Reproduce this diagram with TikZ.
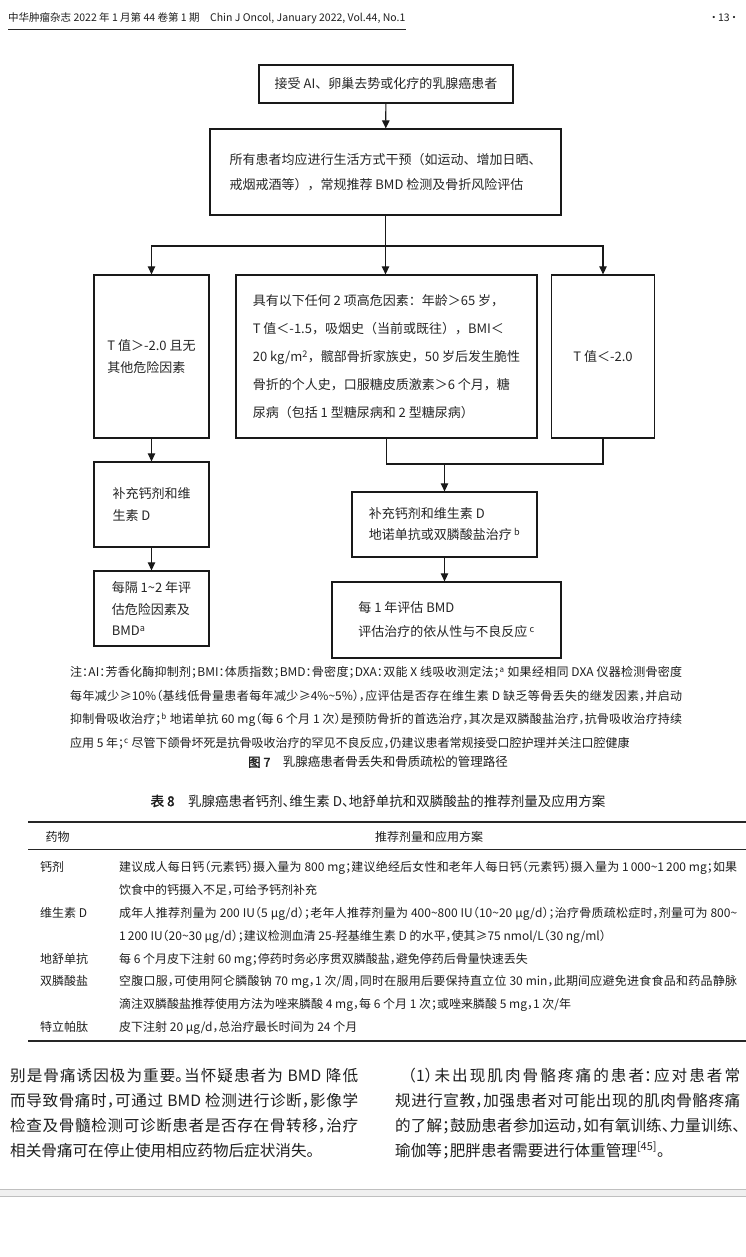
\documentclass[tikz,border=0pt]{standalone}
\usepackage{fontspec}
\setmainfont{Noto Sans CJK SC}
\newfontfamily\flowfont{Noto Sans CJK SC}
\newfontfamily\pagefont[RawFeature=+halt, AutoFakeBold=2]{Noto Sans CJK SC}
\usetikzlibrary{arrows.meta, positioning, calc}
\XeTeXlinebreaklocale "zh"
\XeTeXlinebreakskip=0pt plus 1.5pt

\begin{document}
\begin{tikzpicture}[x=1pt, y=-1pt,
        flowbox/.style={draw=black!90, line width=1.3pt, align=left, inner sep=0pt, text=black!85},
        flowfs/.style={font=\flowfont\fontsize{13}{#1}\selectfont},
        arrow/.style={-{Triangle[length=8pt, width=7.5pt]}, line width=1.2pt, draw=black!90},
        link/.style={line width=1.2pt, draw=black!90},
        para/.style={anchor=base west, inner sep=0pt, align=justify, text=black!88, execute at begin node=\selectfont},
        cell/.style={anchor=base west, inner sep=0pt, text=black!88, font=\pagefont\fontsize{12}{22.86}\selectfont},
        rule/.style={draw=black!85}
    ]
        \useasboundingbox[fill=white] (0,0) rectangle (746,1257);

        % Running head
        \node[anchor=base west, inner sep=0pt, text=black!88, font=\pagefont\fontsize{10.5}{13}\selectfont] (runhead) at (8,22)
            {中华肿瘤杂志 2022 年 1 月第 44 卷第 1 期\quad Chin J Oncol, January 2022, Vol.44, No.1};
        \draw[rule, line width=0.7pt] ([yshift=-5pt]runhead.south west) -- ([yshift=-5pt]runhead.south east);
        \node[anchor=base east, inner sep=0pt, text=black!88, font=\pagefont\fontsize{10.5}{13}\selectfont] (folio) at (737,22) {·\,13\,·};

        % Flow chart
        \node[flowbox, flowfs=16, minimum width=254pt, minimum height=38pt] (start) at (386,84)
            {接受 AI、卵巢去势或化疗的乳腺癌患者};
        \node[flowbox, flowfs=25, minimum width=351pt, minimum height=86pt] (life) at (385.5,172)
            {所有患者均应进行生活方式干预（如运动、增加日晒、\\戒烟戒酒等），常规推荐 BMD 检测及骨折风险评估};
        \node[flowbox, flowfs=22, minimum width=115pt, minimum height=163pt] (low) at (151.5,356.5)
            {T 值＞-2.0 且无\\其他危险因素};
        \node[flowbox, flowfs=28, minimum width=301pt, minimum height=163pt] (risk) at (386.5,356.5)
            {具有以下任何 2 项高危因素：年龄＞65 岁，\\T 值＜-1.5，吸烟史（当前或既往），BMI＜\\20 kg/m\textsuperscript{2}，髋部骨折家族史，50 岁后发生脆性\\骨折的个人史，口服糖皮质激素＞6 个月，糖\\尿病（包括 1 型糖尿病和 2 型糖尿病）};
        \node[flowbox, flowfs=22, minimum width=103pt, minimum height=163pt] (severe) at (603,356.5)
            {T 值＜-2.0};
        \node[flowbox, flowfs=22, minimum width=115pt, minimum height=85pt] (supp) at (151.5,504.5)
            {补充钙剂和维\\生素 D};
        \node[flowbox, flowfs=21.5, minimum width=115pt, minimum height=75pt] (recheck) at (151.5,608.5)
            {每隔 1\textasciitilde 2 年评\\估危险因素及\\BMD\textsuperscript{a}};
        \node[flowbox, flowfs=21, minimum width=185pt, minimum height=65pt] (treat) at (444.5,524.5)
            {补充钙剂和维生素 D\\地诺单抗或双膦酸盐治疗\,\textsuperscript{b}};
        \node[flowbox, flowfs=24, minimum width=229pt, minimum height=76pt] (yearly) at (446.5,620)
            {每 1 年评估 BMD\\评估治疗的依从性与不良反应\,\textsuperscript{c}};

        % Connectors
        \coordinate (split) at (386,246);
        \coordinate (join) at (444.5,464);
        \draw[arrow] (start) -- (life);
        \draw[arrow] (life.south) -- (life.south |- risk.north);
        \draw[arrow] (split) -| (low.north);
        \draw[arrow] (split) -| (severe.north);
        \draw[arrow] (low) -- (supp);
        \draw[arrow] (supp) -- (recheck);
        \draw[link] (risk.south) |- (join) -| (severe.south);
        \draw[arrow] (join) -- (treat.north);
        \draw[arrow] (treat.south) -- (treat.south |- yearly.north);

        % Notes and caption
        \node[para, text width=612pt, font=\pagefont\fontsize{12}{23.67}\selectfont] (notes) at (70,676.6)
            {注：AI：芳香化酶抑制剂；BMI：体质指数；BMD：骨密度；DXA：双能 X 线吸收测定法；\textsuperscript{a} 如果经相同 DXA 仪器检测骨密度\linebreak
            每年减少≥10\%（基线低骨量患者每年减少≥4\%\textasciitilde 5\%），应评估是否存在维生素 D 缺乏等骨丢失的继发因素，并启动\linebreak
            抑制骨吸收治疗；\textsuperscript{b} 地诺单抗 60 mg（每 6 个月 1 次）是预防骨折的首选治疗，其次是双膦酸盐治疗，抗骨吸收治疗持续\linebreak
            应用 5 年；\textsuperscript{c} 尽管下颌骨坏死是抗骨吸收治疗的罕见不良反应，仍建议患者常规接受口腔护理并关注口腔健康};
        \node[anchor=base, inner sep=0pt, text=black!88, font=\pagefont\fontsize{12.5}{15}\selectfont] (caption) at (378,766.8)
            {\textbf{图 7}\quad 乳腺癌患者骨丢失和骨质疏松的管理路径};

        % Table 8
        \node[anchor=base, inner sep=0pt, text=black!88, font=\pagefont\fontsize{13.5}{16}\selectfont] (tabtitle) at (378,806.1)
            {\textbf{表 8}\quad 乳腺癌患者钙剂、维生素 D、地舒单抗和双膦酸盐的推荐剂量及应用方案};
        \draw[rule, line width=1.6pt] (28,822) -- (746,822);
        \node[cell, anchor=base] (headdrug) at (57.5,841.6) {药物};
        \node[cell, anchor=base] (headplan) at (429,841.6) {推荐剂量和应用方案};
        \draw[rule, line width=0.6pt] (28,849) -- (746,849);

        \node[cell] (calcium) at (40,871.6) {钙剂};
        \node[cell, text width=618pt, align=justify, execute at begin node=\selectfont] (calciumplan) at (119,871.6)
            {建议成人每日钙（元素钙）摄入量为 800 mg；建议绝经后女性和老年人每日钙（元素钙）摄入量为 1\,000\textasciitilde 1\,200 mg；如果\linebreak
            饮食中的钙摄入不足，可给予钙剂补充};
        \node[cell] (vitd) at (40,917.3) {维生素 D};
        \node[cell, text width=618pt, align=justify, execute at begin node=\selectfont] (vitdplan) at (119,917.3)
            {成年人推荐剂量为 200 IU（5 μg/d）；老年人推荐剂量为 400\textasciitilde 800 IU（10\textasciitilde 20 μg/d）；治疗骨质疏松症时，剂量可为 800\textasciitilde\linebreak
            1\,200 IU（20\textasciitilde 30 μg/d）；建议检测血清 25-羟基维生素 D 的水平，使其≥75 nmol/L（30 ng/ml）};
        \node[cell] (denos) at (40,963.0) {地舒单抗};
        \node[cell] (denosplan) at (119,963.0)
            {每 6 个月皮下注射 60 mg；停药时务必序贯双膦酸盐，避免停药后骨量快速丢失};
        \node[cell] (bisph) at (40,985.9) {双膦酸盐};
        \node[cell, text width=618pt, align=justify, execute at begin node=\selectfont] (bisphplan) at (119,985.9)
            {空腹口服，可使用阿仑膦酸钠 70 mg，1 次/周，同时在服用后要保持直立位 30 min，此期间应避免进食食品和药品静脉\linebreak
            滴注双膦酸盐推荐使用方法为唑来膦酸 4 mg，每 6 个月 1 次；或唑来膦酸 5 mg，1 次/年};
        \node[cell] (teri) at (40,1031.6) {特立帕肽};
        \node[cell] (teriplan) at (119,1031.6) {皮下注射 20 μg/d，总治疗最长时间为 24 个月};
        \draw[rule, line width=1.6pt] (28,1041) -- (746,1041);

        % Body text, two columns
        \node[para, text width=348pt, font=\pagefont\fontsize{15.6}{25}\selectfont] (leftcol) at (10,1081)
            {别是骨痛诱因极为重要。当怀疑患者为 BMD 降低\linebreak
            而导致骨痛时，可通过 BMD 检测进行诊断，影像学\linebreak
            检查及骨髓检测可诊断患者是否存在骨转移，治疗\linebreak
            相关骨痛可在停止使用相应药物后症状消失。};
        \node[para, text width=345pt, font=\pagefont\fontsize{15.6}{25}\selectfont] (rightcol) at (395,1081)
            {\hspace*{13pt}（1）未出现肌肉骨骼疼痛的患者：应对患者常\linebreak
            规进行宣教，加强患者对可能出现的肌肉骨骼疼痛\linebreak
            的了解；鼓励患者参加运动，如有氧训练、力量训练、\linebreak
            瑜伽等；肥胖患者需要进行体重管理\textsuperscript{[45]}。};

        % Page separator
        \fill[black!6] (0,1189) rectangle (746,1196);
        \draw[black!25, line width=0.8pt] (0,1189) -- (746,1189);
        \draw[black!25, line width=0.8pt] (0,1196) -- (746,1196);
\end{tikzpicture}
\end{document}
